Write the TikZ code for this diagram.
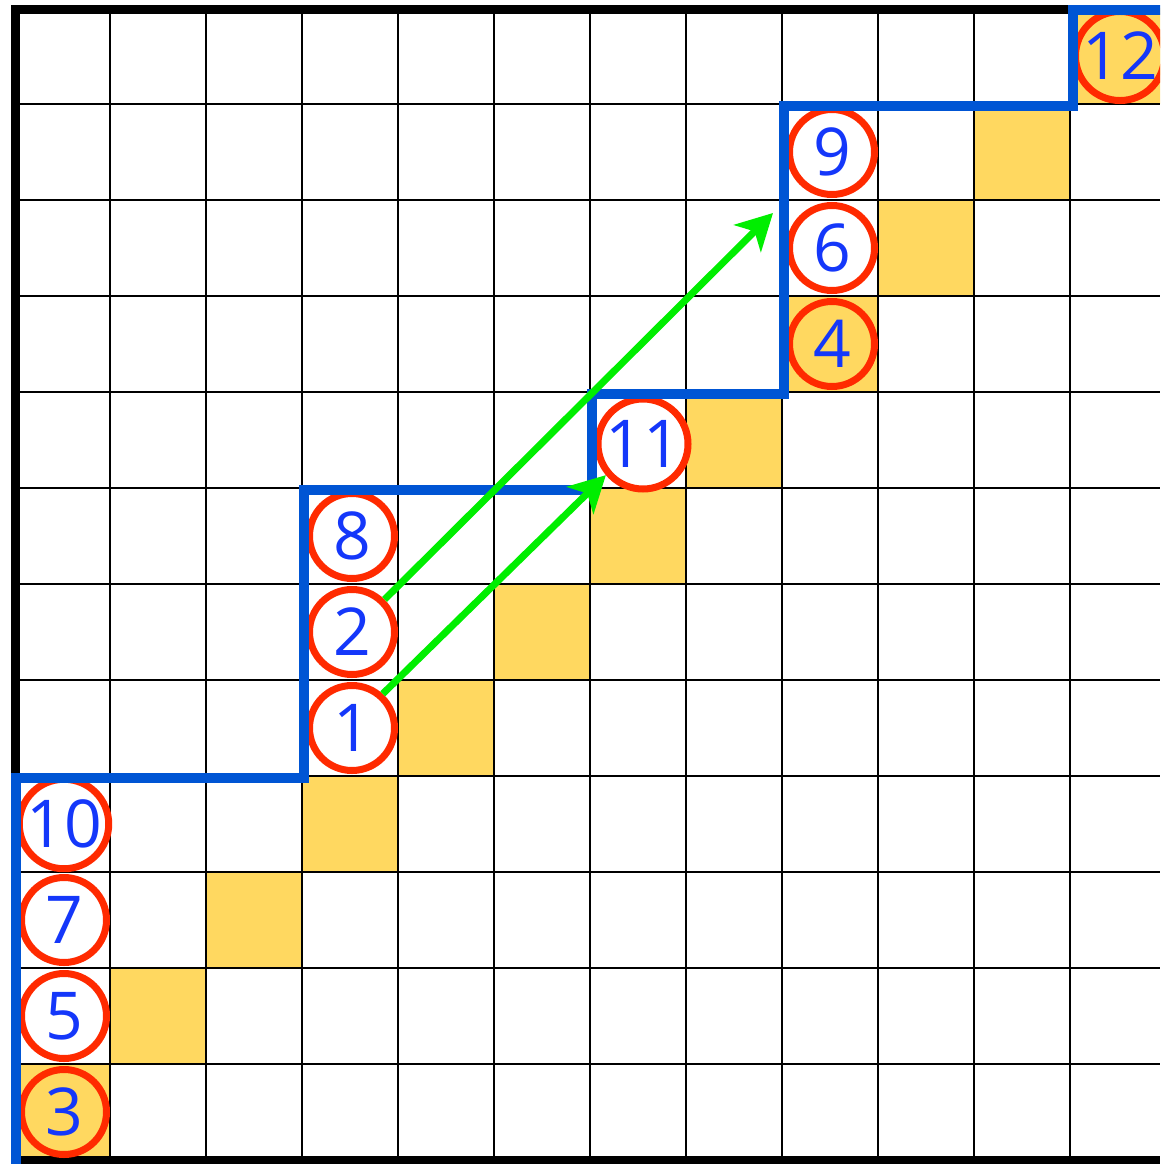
\documentclass[tikz,border=0pt]{standalone}
\usepackage{fontspec}
\newfontfamily\numfont{Open Sans}
\usetikzlibrary{arrows.meta}
\definecolor{cellyellow}{RGB}{255,216,96}
\definecolor{ringred}{RGB}{255,42,0}
\definecolor{stairblue}{RGB}{0,85,212}
\definecolor{digitblue}{RGB}{20,55,250}
\definecolor{arrowgreen}{RGB}{0,238,0}
\begin{document}
\begin{tikzpicture}[x=1pt,y=-1pt,
  gridline/.style={draw=black,line width=2pt},
  frameline/.style={draw=black,line width=9pt},
  num/.style={circle,draw=ringred,line width=7pt,fill=white,minimum size=85pt,inner sep=0pt,
    text=digitblue,font=\numfont\fontsize{66}{66}\selectfont},
  ynum/.style={num,fill=cellyellow},
  stair/.style={draw=stairblue,line width=10pt,line join=miter},
  garrow/.style={draw=arrowgreen,line width=7pt,-{Stealth[length=36pt,width=38pt,inset=10pt]}}
]
\useasboundingbox (0,0) rectangle (1160,1164);
\clip (0,0) rectangle (1160,1164);
\fill[white] (0,0) rectangle (1160,1164);
% diagonal yellow cells
\foreach \c in {0,...,11}
  \fill[cellyellow] ({14+96*\c},{8+96*(11-\c)}) rectangle ++(96,96);
% grid
\foreach \c in {1,...,11}
  \draw[gridline] ({14+96*\c},8) -- ({14+96*\c},1160);
\foreach \r in {1,...,11}
  \draw[gridline] (14,{8+96*\r}) -- (1160,{8+96*\r});
\draw[frameline] (1160,10) -- (15,10) -- (15,1160) -- (1160,1160);
% numbered circles
\node[ynum] (n3)  at (64,1112) {3};
\node[num]  (n5)  at (64,1016) {5};
\node[num]  (n7)  at (64,920)  {7};
\node[num]  (n10) at (64,824)  {10};
\node[num]  (n1)  at (352,728) {1};
\node[num]  (n2)  at (352,632) {2};
\node[num]  (n8)  at (352,536) {8};
\node[num,minimum size=90pt] (n11) at (643,444) {11};
\node[ynum] (n4)  at (832,344) {4};
\node[num]  (n6)  at (832,248) {6};
\node[num]  (n9)  at (832,152) {9};
\node[ynum] (n12) at (1120,56) {12};
% staircase
\draw[stair] (16,1170) -- (16,778) -- (304,778) -- (304,490) -- (592,490) -- (592,394)
  -- (784,394) -- (784,106) -- (1073,106) -- (1073,10) -- (1170,10);
% arrows
\coordinate (t6) at (773,213);
\draw[garrow] (n2.45) -- (t6);
\draw[garrow] (n1.48) -- (n11.220);
\end{tikzpicture}
\end{document}
